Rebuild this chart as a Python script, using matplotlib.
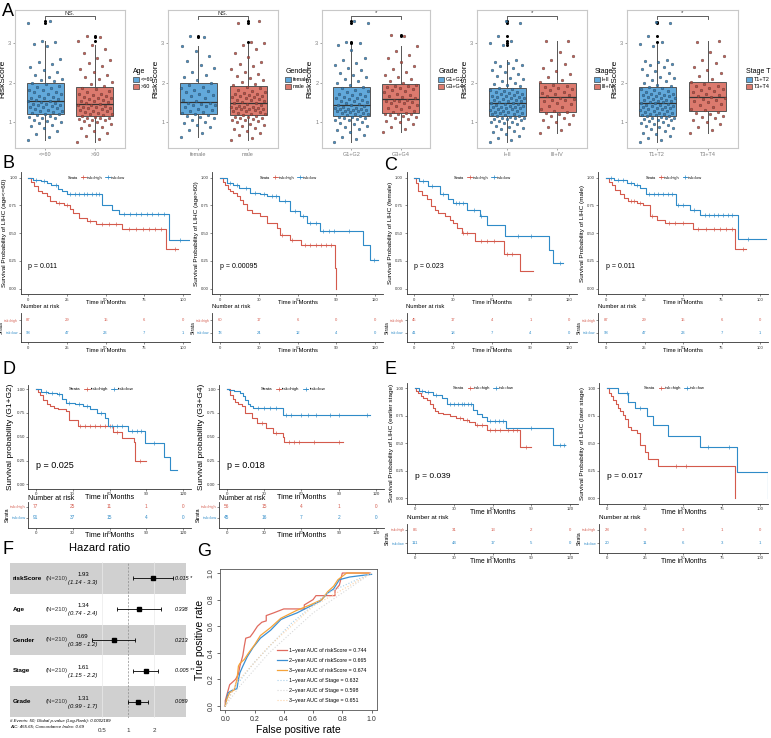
import numpy as np
import matplotlib
matplotlib.use('Agg')
import matplotlib.pyplot as plt
import matplotlib.transforms as mtrans
from matplotlib.lines import Line2D
from matplotlib.patches import Patch

plt.rcParams['font.family'] = ['Liberation Sans', 'DejaVu Sans']

# ---------------- DATA ----------------
# Panel A: risk score values per group
age_le60 = [0.54,0.62,0.70,0.78,0.84,0.89,0.93,0.97,1.00,1.03,1.06,1.09,1.11,1.13,1.15,1.17,
            1.19,1.21,1.23,1.25,1.27,1.29,1.31,1.33,1.35,1.37,1.39,1.41,1.42,1.43,1.45,1.46,
            1.48,1.50,1.52,1.54,1.56,1.58,1.60,1.62,1.64,1.67,1.70,1.72,1.75,1.77,1.80,1.82,
            1.85,1.88,1.92,1.96,2.00,2.03,2.06,2.10,2.15,2.20,2.26,2.32,2.40,2.47,2.53,2.59,
            2.92,2.97,3.02,3.05,3.52,3.55]
age_gt60 = [0.50,0.56,0.64,0.72,0.78,0.84,0.88,0.92,0.96,0.99,1.02,1.04,1.06,1.08,1.09,1.10,
            1.11,1.13,1.15,1.17,1.19,1.21,1.23,1.25,1.27,1.29,1.31,1.33,1.35,1.36,1.37,1.38,
            1.40,1.42,1.44,1.46,1.48,1.50,1.52,1.54,1.56,1.58,1.60,1.62,1.64,1.66,1.68,1.70,
            1.72,1.75,1.79,1.83,1.87,1.92,1.97,2.02,2.08,2.14,2.20,2.27,2.34,2.42,2.50,2.57,
            2.62,2.74,2.84,2.95,3.05,3.16,3.18]
female = [0.63,0.72,0.80,0.86,0.92,0.97,1.01,1.05,1.09,1.12,1.15,1.17,
          1.19,1.22,1.25,1.28,1.31,1.34,1.37,1.40,1.42,1.44,1.46,1.47,
          1.49,1.53,1.57,1.61,1.65,1.69,1.72,1.76,1.79,1.82,1.85,1.88,
          1.93,2.00,2.06,2.13,2.20,2.28,2.36,2.45,2.55,2.68,2.80,2.93,3.16,3.18]
male = [0.54,0.60,0.66,0.72,0.77,0.81,0.85,0.89,0.93,0.96,0.99,1.02,1.04,1.06,1.08,1.10,1.11,1.12,
        1.13,1.15,1.17,1.19,1.21,1.23,1.25,1.27,1.29,1.30,1.32,1.33,1.34,1.35,1.36,1.37,1.38,1.39,
        1.41,1.43,1.45,1.47,1.49,1.51,1.53,1.55,1.57,1.59,1.61,1.63,1.64,1.65,1.67,1.68,1.70,1.71,
        1.73,1.76,1.79,1.82,1.85,1.89,1.93,1.97,2.01,2.06,2.11,2.16,2.22,2.28,2.35,2.42,2.48,2.53,
        2.65,2.75,2.85,2.95,3.00,3.03,3.52,3.55]
g12 = [0.50,0.56,0.62,0.68,0.74,0.79,0.83,0.87,0.91,0.95,0.98,1.01,1.04,1.06,1.08,1.10,1.11,1.12,
       1.13,1.15,1.17,1.19,1.21,1.22,1.24,1.25,1.27,1.28,1.29,1.30,1.31,1.32,1.33,1.34,1.35,1.36,
       1.38,1.40,1.42,1.44,1.46,1.48,1.50,1.52,1.54,1.56,1.58,1.60,1.62,1.64,1.66,1.68,1.70,1.72,
       1.75,1.78,1.81,1.85,1.89,1.93,1.98,2.03,2.08,2.13,2.19,2.25,2.31,2.38,2.44,2.50,2.56,2.62,
       2.82,2.95,3.00,3.02,3.52,3.55]
g34 = [0.75,0.82,0.88,0.94,0.99,1.03,1.07,1.10,1.13,1.15,1.17,1.19,1.20,1.21,
       1.23,1.26,1.29,1.32,1.35,1.38,1.41,1.44,1.47,1.49,1.51,1.53,1.54,1.55,
       1.57,1.60,1.63,1.66,1.69,1.72,1.75,1.78,1.81,1.84,1.86,1.88,1.90,1.91,
       1.94,1.98,2.03,2.08,2.14,2.20,2.27,2.35,2.43,2.52,2.61,2.70,2.80,2.92,3.18,3.20]
stage12 = [0.50,0.55,0.60,0.65,0.70,0.74,0.78,0.82,0.85,0.88,0.91,0.94,0.97,0.99,1.01,1.03,1.05,1.07,1.08,1.09,1.10,1.11,
           1.13,1.14,1.16,1.17,1.19,1.20,1.22,1.23,1.25,1.26,1.28,1.29,1.31,1.32,1.34,1.35,1.36,1.37,1.38,1.39,1.40,1.41,
           1.43,1.45,1.46,1.48,1.49,1.51,1.52,1.54,1.55,1.57,1.58,1.60,1.61,1.63,1.64,1.66,1.67,1.69,1.70,1.72,1.73,1.75,
           1.77,1.79,1.81,1.84,1.87,1.90,1.93,1.96,2.00,2.04,2.08,2.12,2.16,2.21,2.26,2.31,2.36,2.41,2.45,2.49,2.53,2.57,
           2.95,3.00,3.05,3.18,3.52,3.55]
stage34 = [0.71,0.80,0.88,0.95,1.01,1.06,1.10,1.14,1.17,1.20,1.22,
           1.25,1.29,1.33,1.37,1.41,1.45,1.49,1.52,1.55,1.57,1.59,
           1.62,1.65,1.68,1.71,1.74,1.77,1.80,1.83,1.86,1.89,1.91,
           1.95,2.01,2.07,2.14,2.21,2.29,2.38,2.47,2.57,2.67,2.78,3.05,3.06]
t12 = [0.50,0.54,0.59,0.64,0.69,0.73,0.77,0.81,0.84,0.87,0.90,0.93,0.96,0.98,1.00,1.02,1.04,1.06,1.08,1.09,1.10,1.11,
       1.12,1.14,1.15,1.17,1.18,1.20,1.21,1.23,1.24,1.26,1.27,1.29,1.30,1.32,1.33,1.35,1.36,1.38,1.39,1.40,1.41,1.42,
       1.44,1.45,1.47,1.48,1.50,1.51,1.53,1.54,1.56,1.57,1.59,1.60,1.62,1.63,1.65,1.66,1.68,1.69,1.71,1.72,1.74,1.75,
       1.78,1.80,1.83,1.86,1.89,1.92,1.95,1.99,2.03,2.07,2.11,2.15,2.20,2.25,2.30,2.35,2.40,2.44,2.48,2.52,2.55,2.57,
       2.93,2.98,3.02,3.18,3.52,3.54]
t34 = [0.71,0.79,0.87,0.94,1.00,1.05,1.09,1.13,1.16,1.19,1.22,
       1.26,1.30,1.34,1.38,1.42,1.46,1.50,1.53,1.56,1.58,1.60,
       1.63,1.66,1.69,1.72,1.75,1.78,1.81,1.84,1.87,1.90,1.92,
       1.96,2.02,2.09,2.16,2.23,2.31,2.40,2.49,2.58,2.68,2.78,3.04,3.06]

box_titles = ['Age', 'Gender', 'Grade', 'Stage', 'Stage T']
box_cats = [['<=60', '>60'], ['female', 'male'], ['G1+G2', 'G3+G4'], ['I+II', 'III+IV'], ['T1+T2', 'T3+T4']]
box_data = [[age_le60, age_gt60], [female, male], [g12, g34], [stage12, stage34], [t12, t34]]
box_sig = ['NS.', 'NS.', '*', '*', '*']

# Panels B-E: Kaplan-Meier curves (time in months, survival)
km_ylabels = ['Survival Probability of LIHC (age<=60)', 'Survival Probability of LIHC (age>60)',
              'Survival Probability of LIHC (female)', 'Survival Probability of LIHC (male)',
              'Survival probability (G1+G2)', 'Survival probability (G3+G4)',
              'Survival Probability of LIHC (earlier stage)', 'Survival Probability of LIHC (later stage)']
km_pvals = ['p = 0.011', 'p = 0.00095', 'p = 0.023', 'p = 0.011',
            'p = 0.025', 'p = 0.018', 'p = 0.039', 'p = 0.017']
km_xticks = [[0, 25, 50, 75, 100], [0, 30, 60, 90, 120], [0, 30, 60, 90, 120], [0, 25, 50, 75, 100],
             [0, 30, 60, 90, 120], [0, 30, 60, 90, 120], [0, 30, 60, 90, 120], [0, 25, 50, 75, 100]]
risk_high = [[87, 29, 15, 6, 0], [60, 17, 6, 0, 0], [45, 17, 4, 1, 0], [87, 29, 15, 6, 0],
             [77, 25, 11, 1, 0], [56, 15, 4, 1, 0], [86, 31, 13, 2, 0], [28, 9, 3, 1, 0]]
risk_low = [[98, 47, 23, 7, 1], [78, 24, 12, 4, 0], [41, 18, 7, 4, 0], [98, 47, 23, 7, 1],
            [91, 37, 15, 4, 0], [45, 16, 7, 2, 0], [111, 44, 17, 5, 0], [20, 11, 6, 3, 1]]

km_high_t = [[0, 2, 4, 6, 9, 12, 14, 18, 23, 27, 29, 33, 38, 44, 61, 89, 97],
             [0, 2, 4, 6, 8, 10, 13, 15.5, 18, 20.6, 25, 31, 36, 44, 46.5, 54, 63, 89, 90],
             [0, 1, 3, 6, 9.5, 13, 16, 18.6, 24, 27.6, 30, 33, 36.6, 47, 69.4, 82, 91.6],
             [0, 2, 4, 6, 9, 12, 14.5, 20, 24, 28.6, 33, 38, 56.7, 83.8, 91],
             [0, 1.5, 3.5, 6, 9, 11.6, 15, 18.4, 25, 27, 34.7, 63, 70, 80, 81, 90],
             [0, 2.7, 5, 6.7, 9, 12, 14.7, 20, 24, 32, 37.5, 45.6, 46, 93.8],
             [0, 1, 2.6, 4.5, 6.5, 9, 11.6, 14, 15.5, 18, 22, 27, 32, 37.4, 42, 46.5, 55.5, 81, 90],
             [0, 1.7, 3, 4.3, 6, 7.6, 9, 10.9, 12, 14, 16, 19.6, 21.7, 25, 27, 33.7, 83.7]]
km_high_s = [[1.0, 0.96, 0.92, 0.88, 0.86, 0.83, 0.79, 0.77, 0.756, 0.72, 0.68, 0.635, 0.61, 0.58, 0.536, 0.355, 0.355],
             [1.0, 0.96, 0.93, 0.9, 0.88, 0.86, 0.83, 0.80, 0.76, 0.71, 0.68, 0.65, 0.59, 0.545, 0.485, 0.44, 0.39, 0.19, 0.0],
             [1.0, 0.95, 0.88, 0.84, 0.81, 0.74, 0.71, 0.68, 0.65, 0.62, 0.59, 0.55, 0.50, 0.425, 0.313, 0.16, 0.16],
             [1.0, 0.96, 0.93, 0.89, 0.85, 0.82, 0.79, 0.77, 0.756, 0.65, 0.62, 0.59, 0.536, 0.355, 0.355],
             [1.0, 0.97, 0.94, 0.89, 0.85, 0.825, 0.80, 0.79, 0.766, 0.68, 0.61, 0.545, 0.486, 0.45, 0.25, 0.25],
             [1.0, 0.94, 0.90, 0.87, 0.85, 0.82, 0.75, 0.70, 0.64, 0.59, 0.54, 0.50, 0.45, 0.45],
             [1.0, 0.98, 0.955, 0.93, 0.91, 0.89, 0.86, 0.82, 0.79, 0.78, 0.77, 0.75, 0.73, 0.71, 0.69, 0.67, 0.62, 0.47, 0.47],
             [1.0, 0.96, 0.93, 0.89, 0.86, 0.82, 0.79, 0.76, 0.72, 0.65, 0.62, 0.59, 0.485, 0.42, 0.36, 0.295, 0.0]]
km_high_cens = [[20, 25, 40, 48, 52, 57, 65, 70, 74, 78, 82, 86, 95],
                [48, 56, 66, 70, 74, 78, 82, 86],
                [38, 41, 52, 56, 62, 72, 76],
                [16, 18, 22, 30, 41, 45, 50, 60, 65, 70, 74, 78, 82, 89],
                [36, 40, 44, 48, 52, 56, 60, 66, 85],
                [28, 40, 50, 54, 58, 70, 90],
                [35, 40, 48, 52, 58, 62, 66, 72, 76, 79, 86],
                [45, 52]]
km_low_t = [[0, 3, 8, 12, 15, 19, 22, 25, 48, 54, 59, 91, 105],
            [0, 5, 10, 15, 23, 31, 36, 46, 54, 62, 67, 77, 111, 116, 122],
            [0, 4, 11, 20, 26, 30, 41, 51, 56, 70, 104, 107.6, 115],
            [0, 5, 13.4, 18, 22, 26, 45.6, 54.5, 61, 85.4, 104],
            [0, 4, 10, 17, 21, 25, 32, 38.8, 44, 49.6, 56, 59, 75, 89, 104, 109, 114.6],
            [0, 2, 6, 10.7, 13, 14.7, 17, 18.8, 21.4, 45.6, 115],
            [0, 3, 8, 14, 20.6, 24.5, 45, 48, 51.6, 55.5, 70.5, 107, 116],
            [0, 7.6, 14, 18.5, 26, 30, 40, 61, 85.2, 105.4]]
km_low_s = [[1.0, 0.98, 0.97, 0.95, 0.93, 0.9, 0.88, 0.85, 0.756, 0.71, 0.67, 0.44, 0.44],
            [1.0, 0.95, 0.93, 0.91, 0.86, 0.85, 0.83, 0.79, 0.70, 0.65, 0.59, 0.52, 0.395, 0.26, 0.26],
            [1.0, 0.97, 0.92, 0.855, 0.81, 0.77, 0.71, 0.65, 0.57, 0.47, 0.35, 0.235, 0.235],
            [1.0, 0.98, 0.95, 0.93, 0.91, 0.85, 0.756, 0.71, 0.665, 0.446, 0.446],
            [1.0, 0.975, 0.96, 0.95, 0.90, 0.86, 0.84, 0.82, 0.79, 0.75, 0.70, 0.61, 0.556, 0.43, 0.29, 0.154, 0.154],
            [1.0, 0.99, 0.98, 0.96, 0.93, 0.89, 0.85, 0.82, 0.80, 0.73, 0.73],
            [1.0, 0.98, 0.97, 0.94, 0.91, 0.86, 0.80, 0.77, 0.74, 0.70, 0.64, 0.485, 0.485],
            [1.0, 0.955, 0.88, 0.82, 0.75, 0.667, 0.567, 0.47, 0.24, 0.0]]
km_low_cens = [[5, 10, 18, 27, 30, 33, 36, 38, 41, 44, 46, 62, 66, 70, 73, 77, 80, 84, 88, 98],
               [8, 13, 20, 27, 34, 40, 43, 50, 58, 64, 70, 74, 80, 84, 88, 100, 119],
               [7, 14, 22, 32, 35, 38, 46, 52, 80, 90, 113],
               [3, 8, 11, 16, 20, 28, 31, 34, 37, 40, 43, 47, 50, 57, 64, 67, 70, 73, 76, 79, 82, 92],
               [8, 13, 19, 27, 35, 42, 53, 62, 66, 70, 78, 82, 86, 96],
               [25, 30, 35, 40, 48, 52, 60, 65, 72, 83, 90, 113],
               [5, 10, 16, 27, 30, 33, 36, 38, 41, 43, 58, 62, 65, 68, 90, 112, 115],
               [13, 22, 66, 80]]

# Panel F: multivariate Cox
cox_vars = ['riskScore', 'Age', 'Gender', 'Stage', 'Grade']
cox_n = ['(N=210)'] * 5
cox_hr = [1.93, 1.34, 0.69, 1.61, 1.31]
cox_lo = [1.14, 0.74, 0.38, 1.15, 0.99]
cox_hi = [3.3, 2.4, 1.2, 2.2, 1.7]
cox_ci_txt = ['(1.14 - 3.3)', '(0.74 - 2.4)', '(0.38 - 1.2)', '(1.15 - 2.2)', '(0.99 - 1.7)']
cox_p = ['0.015 *', '0.338', '0.213', '0.005 **', '0.089']

# Panel G: time-dependent ROC
roc_labels = ['1\u2212year AUC of riskScore = 0.744', '2\u2212year AUC of riskScore = 0.665',
              '3\u2212year AUC of riskScore = 0.674', '1\u2212year AUC of Stage = 0.632',
              '2\u2212year AUC of Stage = 0.598', '3\u2212year AUC of Stage = 0.651']
roc_fpr = [
    [0, 0, 0.01, 0.02, 0.03, 0.05, 0.07, 0.09, 0.10, 0.12, 0.13, 0.14, 0.17, 0.19, 0.22, 0.25, 0.28, 0.28, 0.33, 0.40, 0.54, 0.54, 0.60, 0.62, 0.75, 0.75, 0.78, 0.80, 0.99],
    [0, 0.01, 0.02, 0.05, 0.08, 0.09, 0.10, 0.12, 0.15, 0.19, 0.24, 0.31, 0.38, 0.42, 0.49, 0.58, 0.65, 0.70, 0.74, 0.78, 0.85, 0.92, 1.0],
    [0, 0.01, 0.03, 0.06, 0.08, 0.09, 0.10, 0.13, 0.16, 0.20, 0.24, 0.31, 0.38, 0.49, 0.58, 0.66, 0.70, 0.74, 0.77, 0.83, 0.98],
    [0, 0.05, 0.20, 0.45, 0.70, 1.0],
    [0, 0.10, 0.30, 0.60, 1.0],
    [0, 0.08, 0.30, 0.60, 1.0]]
roc_tpr = [
    [0, 0.04, 0.08, 0.12, 0.16, 0.18, 0.20, 0.24, 0.30, 0.38, 0.45, 0.51, 0.52, 0.55, 0.60, 0.63, 0.64, 0.68, 0.70, 0.73, 0.73, 0.76, 0.80, 0.83, 0.83, 0.87, 0.91, 1.0, 1.0],
    [0, 0.06, 0.10, 0.12, 0.13, 0.20, 0.25, 0.30, 0.37, 0.44, 0.51, 0.57, 0.65, 0.67, 0.70, 0.75, 0.79, 0.85, 0.88, 0.95, 0.97, 0.98, 0.99],
    [0, 0.05, 0.10, 0.12, 0.20, 0.30, 0.32, 0.35, 0.40, 0.46, 0.53, 0.59, 0.66, 0.72, 0.76, 0.80, 0.86, 0.90, 0.95, 1.0, 1.0],
    [0, 0.12, 0.33, 0.62, 0.85, 1.0],
    [0, 0.15, 0.40, 0.70, 1.0],
    [0, 0.18, 0.45, 0.75, 1.0]]

# ---------------- STYLE ----------------
W, H = 771, 738
fig = plt.figure(figsize=(W / 100, H / 100), dpi=100)

def pax(x0, y0, x1, y1):
    return fig.add_axes([x0 / W, 1 - y1 / H, (x1 - x0) / W, (y1 - y0) / H])

BLUE_FILL = '#62A9DB'
RED_FILL = '#DC7A6E'
BLUE_PT = '#2C7BB6'
RED_PT = '#B8473B'
KM_RED = '#D45A4C'
KM_BLUE = '#2F8BC8'

# ---------------- PANEL A ----------------
box_x = [(15, 125), (168, 278), (322, 430), (477, 587), (627, 738)]
leg_x = [130, 282, 435, 591, 743]
for i in range(5):
    ax = pax(box_x[i][0], 10, box_x[i][1], 148)
    bp = ax.boxplot(box_data[i], positions=[1, 2], widths=0.74, patch_artist=True, showcaps=False,
                    flierprops=dict(marker='o', markersize=2.2, markerfacecolor='black', markeredgecolor='none'),
                    medianprops=dict(color='#333333', lw=0.9),
                    whiskerprops=dict(color='#555555', lw=0.7),
                    boxprops=dict(edgecolor='#555555', lw=0.7))
    for patch, c in zip(bp['boxes'], [BLUE_FILL, RED_FILL]):
        patch.set_facecolor(c)
    for k, (vals, c) in enumerate(zip(box_data[i], [BLUE_PT, RED_PT])):
        n = len(vals)
        jit = ((np.arange(n) * 0.618034) % 1 - 0.5) * 0.7
        ax.scatter(k + 1 + jit, vals, s=4.0, c=c, edgecolors='#333333', linewidths=0.25, alpha=0.85, zorder=3)
    ax.set_xlim(0.4, 2.6)
    ax.set_ylim(0.34, 3.84)
    ax.plot([1, 1, 2, 2], [3.60, 3.69, 3.69, 3.60], color='#444444', lw=0.6)
    ax.text(1.5, 3.70, box_sig[i], ha='center', va='bottom', fontsize=4.5, color='#333333')
    ax.set_yticks([1, 2, 3])
    ax.set_yticklabels(['1', '2', '3'])
    ax.set_xticks([1, 2])
    ax.set_xticklabels(box_cats[i])
    ax.tick_params(labelsize=4.0, colors='#7F7F7F', length=1.5, width=0.5, pad=1.2)
    for sp in ax.spines.values():
        sp.set_color('#C8C8C8')
        sp.set_linewidth(0.8)
    ax.set_ylabel('RiskScore', fontsize=6.0, labelpad=1.0)
    fig.legend(handles=[Patch(fc=BLUE_FILL, ec='#444444', lw=0.5), Patch(fc=RED_FILL, ec='#444444', lw=0.5)],
               labels=box_cats[i], title=box_titles[i], loc='upper left',
               bbox_to_anchor=(leg_x[i] / W, 1 - 65 / H), frameon=False, fontsize=4.0, title_fontsize=5.0,
               handlelength=1.0, handleheight=0.9, handletextpad=0.3, labelspacing=0.3, borderpad=0.1,
               alignment='left')

# ---------------- PANELS B-E ----------------
ROW = {
    'BC': dict(py=(172, 294.3), tt=307, ty=(312.5, 342.3), tyl=(0.28, 2.58), tick=3.0, xl=4.2, yl=4.6,
               p=5.0, num=3.0, nar=4.2, leg=2.8, xlp=-1.5, rl=2.4),
    'D': dict(py=(384.5, 489.0), tt=498.0, ty=(501.5, 527.5), tyl=(0.12, 2.45), tick=3.2, xl=5.2, yl=6.0,
              p=6.5, num=3.4, nar=5.0, leg=3.2, xlp=-1.8, rl=2.8),
    'E': dict(py=(382.8, 503.8), tt=517.3, ty=(524, 552.7), tyl=(0.29, 2.45), tick=3.1, xl=4.8, yl=4.6,
              p=6.0, num=3.1, nar=4.6, leg=3.0, xlp=-1.6, rl=2.5),
}
km_rows = ['BC', 'BC', 'BC', 'BC', 'D', 'D', 'E', 'E']
km_px = [(20.6, 190.4), (212.3, 382.8), (406.5, 577.0), (598.3, 767.7),
         (28.3, 190.7), (219.2, 383.5), (407.3, 577.8), (599.0, 767.7)]
km_xlim = [(-5, 105), (-6, 126), (-6, 126), (-5, 105), (-6, 126), (-6, 126), (-6, 126), (-5, 105)]


def style_axis(ax, r):
    for s in ['top', 'right']:
        ax.spines[s].set_visible(False)
    for s in ['left', 'bottom']:
        ax.spines[s].set_color('#333333')
        ax.spines[s].set_linewidth(0.6)
    ax.tick_params(labelsize=r['tick'], colors='#333333', length=1.5, width=0.4, pad=1)


def km_draw(ax, t, s, cens, color):
    ax.step(t, s, where='post', color=color, lw=0.8)
    t = np.asarray(t)
    s = np.asarray(s)
    idx = np.searchsorted(t, cens, side='right') - 1
    ax.plot(cens, s[idx], ls='none', marker='+', ms=2.2, mew=0.45, color=color)


for i in range(8):
    r = ROW[km_rows[i]]
    x0, x1 = km_px[i]
    ax = pax(x0, r['py'][0], x1, r['py'][1])
    km_draw(ax, km_high_t[i], km_high_s[i], km_high_cens[i], KM_RED)
    km_draw(ax, km_low_t[i], km_low_s[i], km_low_cens[i], KM_BLUE)
    ax.set_xlim(*km_xlim[i])
    ax.set_ylim(-0.05, 1.05)
    ax.set_yticks([0, 0.25, 0.5, 0.75, 1.0])
    ax.set_yticklabels(['0.00', '0.25', '0.50', '0.75', '1.00'])
    ax.set_xticks(km_xticks[i])
    style_axis(ax, r)
    ax.set_xlabel('Time in Months', fontsize=r['xl'], labelpad=r['xlp'])
    ax.set_ylabel(km_ylabels[i], fontsize=r['yl'], labelpad=1.5)
    ax.text(0, 0.2, km_pvals[i], fontsize=r['p'], ha='left', va='center')
    handles = [Line2D([], [], color='none'),
               Line2D([], [], color=KM_RED, marker='+', lw=0.6, ms=2.5, mew=0.5),
               Line2D([], [], color=KM_BLUE, marker='+', lw=0.6, ms=2.5, mew=0.5)]
    ax.legend(handles, ['Strata', 'risk=high', 'risk=low'], ncol=3, loc='center',
              bbox_to_anchor=(0.43, 0.955), frameon=False, fontsize=r['leg'], handlelength=1.2,
              handletextpad=0.2, columnspacing=0.8, borderpad=0)

    tax = pax(x0, r['ty'][0], x1, r['ty'][1])
    tax.set_xlim(*km_xlim[i])
    tax.set_ylim(*r['tyl'])
    for xt, nh, nl in zip(km_xticks[i], risk_high[i], risk_low[i]):
        tax.text(xt, 2, str(nh), ha='center', va='center', fontsize=r['num'], color=KM_RED)
        tax.text(xt, 1, str(nl), ha='center', va='center', fontsize=r['num'], color=KM_BLUE)
    tax.set_xticks(km_xticks[i])
    tax.set_yticks([2, 1])
    tax.set_yticklabels(['risk=high', 'risk=low'])
    style_axis(tax, r)
    tax.tick_params(axis='y', labelsize=r['rl'], pad=0.5)
    for lbl, c in zip(tax.get_yticklabels(), [KM_RED, KM_BLUE]):
        lbl.set_color(c)
    tax.set_xlabel('Time in Months', fontsize=r['xl'], labelpad=r['xlp'])
    tax.set_ylabel('Strata', fontsize=r['nar'] * 0.8, labelpad=0.3)
    fig.text(x0 / W, 1 - r['tt'] / H, 'Number at risk', fontsize=r['nar'], va='center', ha='left')

# ---------------- PANEL F ----------------
fax = pax(10, 562, 186, 718)
fax.set_xscale('log', base=2)
fax.set_xlim(2 ** (-118 / 26), 2 ** (58 / 26))
fax.set_ylim(0.48, 5.52)
rows_y = [5, 4, 3, 2, 1]
for j, y in enumerate(rows_y):
    if j % 2 == 0:
        fax.axhspan(y - 0.5, y + 0.5, color='#D0D0D0', zorder=0, lw=0)
for v in [0.5, 2]:
    fax.axvline(v, color='#EAEAEA', lw=0.5, zorder=0.5)
fax.axvline(1, color='#8C8C8C', ls=(0, (3, 2)), lw=0.5, zorder=1)
hr = np.array(cox_hr)
lo = np.array(cox_lo)
hi = np.array(cox_hi)
fax.errorbar(hr, rows_y, xerr=[hr - lo, hi - hr], fmt='s', color='black', ms=3.2,
             capsize=1.6, elinewidth=0.6, capthick=0.6, zorder=3)
trans = mtrans.blended_transform_factory(fax.transAxes, fax.transData)
for j, y in enumerate(rows_y):
    fax.text(0.017, y, cox_vars[j], transform=trans, fontsize=4.6, fontweight='bold', va='center')
    fax.text(0.20, y, cox_n[j], transform=trans, fontsize=4.3, va='center', color='#333333')
    fax.text(0.415, y + 0.12, f'{cox_hr[j]:.2f}', transform=trans, fontsize=4.3, ha='center', va='center')
    fax.text(0.415, y - 0.14, cox_ci_txt[j], transform=trans, fontsize=4.3, ha='center', va='center',
             style='italic')
    fax.text(0.935, y, cox_p[j], transform=trans, fontsize=4.0, va='center', style='italic')
fax.set_xticks([0.5, 1, 2])
fax.set_xticklabels(['0.5', '1', '2'])
fax.xaxis.set_minor_locator(matplotlib.ticker.NullLocator())
fax.tick_params(axis='x', length=0, labelsize=4.5, pad=7, colors='#333333')
fax.set_yticks([])
for sp in fax.spines.values():
    sp.set_visible(False)
fig.text(100 / W, 1 - 548 / H, 'Hazard ratio', fontsize=8, ha='center', va='center')
fig.text(10 / W, 1 - 721 / H, '# Events: 50; Global p-value (Log-Rank): 0.0002189', fontsize=3.2,
         style='italic', va='center')
fig.text(10 / W, 1 - 726.5 / H, 'AIC: 455.65; Concordance Index: 0.69', fontsize=3.2,
         style='italic', va='center')

# ---------------- PANEL G ----------------
gax = pax(220, 569.3, 377.3, 710)
roc_colors = ['#E06B5F', '#3A8FD3', '#F5A33A', '#A9CFE8', '#D9D9D9', '#FCD3A8']
roc_ls = ['-', '-', '-', ':', ':', ':']
for j in range(6):
    gax.plot(roc_fpr[j], roc_tpr[j], color=roc_colors[j], ls=roc_ls[j], lw=0.9 if j < 3 else 0.8)
gax.set_xlim(-0.036, 1.039)
gax.set_ylim(-0.03, 1.028)
gax.set_xticks(np.arange(0, 1.01, 0.2))
gax.set_yticks(np.arange(0, 1.01, 0.2))
gax.set_xticklabels([f'{v:.1f}' for v in np.arange(0, 1.01, 0.2)])
gax.set_yticklabels([f'{v:.1f}' for v in np.arange(0, 1.01, 0.2)], rotation=90, va='center')
gax.tick_params(labelsize=5, length=2.5, width=0.5, pad=1.5, colors='#333333')
for sp in gax.spines.values():
    sp.set_color('#555555')
    sp.set_linewidth(0.6)
gax.set_xlabel('False positive rate', fontsize=7.5, labelpad=2)
gax.set_ylabel('True positive rate', fontsize=7.5, labelpad=2)
gax.legend(roc_labels, loc='lower right', bbox_to_anchor=(0.95, 0.03), frameon=False, fontsize=3.8,
           handlelength=2.0, labelspacing=0.95, handletextpad=0.4, borderpad=0)

# ---------------- PANEL LETTERS ----------------
for lt, x, y in [('A', 2, 11), ('B', 2, 164), ('C', 384, 165), ('D', 2, 370), ('E', 384, 370),
                 ('F', 3, 549), ('G', 197, 552)]:
    fig.text(x / W, 1 - y / H, lt, fontsize=13, va='center', ha='left')

fig.savefig('out.png', dpi=100)
